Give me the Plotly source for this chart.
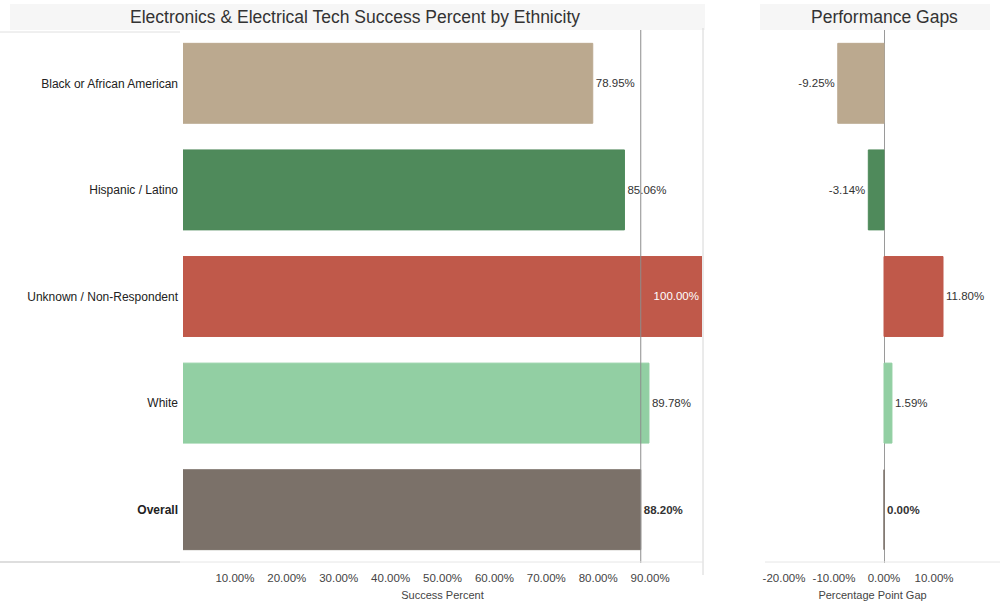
import plotly.graph_objects as go

# Data
categories = ["Black or African American", "Hispanic / Latino",
              "Unknown / Non-Respondent", "White", "Overall"]
success_pct = [78.95, 85.06, 100.00, 89.78, 88.20]
gap_pct = [-9.25, -3.14, 11.80, 1.59, 0.00]
bar_colors = ["#bba98f", "#4f8a5b", "#c0594a", "#92cfa3", "#7b7169"]

success_ticks = [10, 20, 30, 40, 50, 60, 70, 80, 90]
gap_ticks = [-20, -10, 0, 10, 20]

FONT = "Liberation Sans, Arial, sans-serif"
overall_value = success_pct[categories.index("Overall")]

tick_text = [f"<b>{c}</b>" if c == "Overall" else c for c in categories]
succ_text = [f"<b>{v:.2f}%</b>" if c == "Overall" else f"{v:.2f}%"
             for c, v in zip(categories, success_pct)]
gap_text = [f"<b>{v:.2f}%</b>" if c == "Overall" else f"{v:.2f}%"
            for c, v in zip(categories, gap_pct)]
succ_pos = ["inside" if v >= 100 else "outside" for v in success_pct]
succ_text_col = ["white" if v >= 100 else "#333333" for v in success_pct]

fig = go.Figure()

fig.add_trace(go.Bar(
    x=success_pct, y=categories, orientation="h",
    marker=dict(color=bar_colors, line=dict(color=bar_colors, width=1)),
    width=0.75, text=succ_text, textposition=succ_pos,
    insidetextanchor="end", textangle=0,
    textfont=dict(family=FONT, size=11.5, color=succ_text_col),
    outsidetextfont=dict(family=FONT, size=11.5, color="#333333"),
    insidetextfont=dict(family=FONT, size=11.5, color="white"),
    cliponaxis=False, showlegend=False, hoverinfo="skip",
    xaxis="x", yaxis="y",
))

fig.add_trace(go.Bar(
    x=gap_pct, y=categories, orientation="h",
    marker=dict(color=bar_colors, line=dict(color=bar_colors, width=1)),
    width=0.75, text=gap_text, textposition="outside", textangle=0,
    textfont=dict(family=FONT, size=11.5, color="#333333"),
    cliponaxis=False, showlegend=False, hoverinfo="skip",
    xaxis="x2", yaxis="y2",
))

y_dom = [1 - 563 / 605, 1 - 30 / 605]

fig.update_layout(
    width=1000, height=605,
    margin=dict(l=0, r=0, t=0, b=0),
    paper_bgcolor="white", plot_bgcolor="white",
    font=dict(family=FONT, size=11, color="#333333"),
    bargap=0.25,
    xaxis=dict(
        domain=[0.183, 0.702], range=[0, 100],
        tickvals=success_ticks,
        ticktext=[f"{t:.2f}%" for t in success_ticks],
        tickfont=dict(size=11.5, color="#444444"),
        ticks="outside", ticklen=4, tickcolor="rgba(0,0,0,0)",
        showgrid=False, zeroline=False, showline=False,
        title=dict(text="Success Percent", font=dict(size=11, color="#444444"),
                   standoff=8),
        fixedrange=True,
    ),
    yaxis=dict(
        domain=y_dom, anchor="x",
        categoryorder="array", categoryarray=categories,
        range=[4.5, -0.5],
        tickvals=categories, ticktext=tick_text,
        tickfont=dict(size=12, color="#222222"),
        showgrid=False, zeroline=False, showline=False,
        ticks="", ticklabelstandoff=4,
    ),
    xaxis2=dict(
        domain=[0.745, 1.0], range=[-27.8, 23.2], anchor="y2",
        tickvals=gap_ticks,
        ticktext=[f"{t:.2f}%" for t in gap_ticks],
        tickfont=dict(size=11.5, color="#444444"),
        ticks="outside", ticklen=4, tickcolor="rgba(0,0,0,0)",
        showgrid=False, zeroline=True, zerolinecolor="#9a9a9a",
        zerolinewidth=1, showline=False,
        title=dict(text="Percentage Point Gap",
                   font=dict(size=11, color="#444444"), standoff=8),
    ),
    yaxis2=dict(
        domain=y_dom, anchor="x2", matches="y",
        categoryorder="array", categoryarray=categories,
        showticklabels=False, showgrid=False, zeroline=False,
        showline=False, ticks="",
    ),
)

# Title bands
fig.add_shape(type="rect", xref="paper", yref="paper",
              x0=0.01, x1=0.705, y0=1 - 30 / 605, y1=1 - 4 / 605,
              fillcolor="#f6f6f6", line=dict(width=0), layer="below")
fig.add_shape(type="rect", xref="paper", yref="paper",
              x0=0.76, x1=0.99, y0=1 - 30 / 605, y1=1 - 4 / 605,
              fillcolor="#f6f6f6", line=dict(width=0), layer="below")
fig.add_annotation(text="Electronics & Electrical Tech Success Percent by Ethnicity",
                   xref="paper", yref="paper", x=0.355, y=1 - 17 / 605,
                   xanchor="center", yanchor="middle",
                   showarrow=False, font=dict(size=17.5, color="#333333"))
fig.add_annotation(text="Performance Gaps",
                   xref="paper", yref="paper", x=0.884, y=1 - 17 / 605,
                   xanchor="center", yanchor="middle",
                   showarrow=False, font=dict(size=17.5, color="#333333"))

# Reference line at the overall rate
fig.add_shape(type="line", xref="x", yref="y domain",
              x0=overall_value, x1=overall_value, y0=0, y1=1,
              line=dict(color="#8c8c8c", width=1))

# Panel borders
fig.add_shape(type="line", xref="paper", yref="paper",
              x0=0.703, x1=0.703, y0=1 - 575 / 605, y1=1 - 28 / 605,
              line=dict(color="#d6d6d6", width=1))
fig.add_shape(type="line", xref="paper", yref="paper",
              x0=0.0, x1=0.18, y0=1 - 562 / 605, y1=1 - 562 / 605,
              line=dict(color="#bdbdbd", width=1))
fig.add_shape(type="line", xref="paper", yref="paper",
              x0=0.18, x1=0.703, y0=1 - 562 / 605, y1=1 - 562 / 605,
              line=dict(color="#e6e6e6", width=1))
fig.add_shape(type="line", xref="paper", yref="paper",
              x0=0.0, x1=0.18, y0=1 - 32 / 605, y1=1 - 32 / 605,
              line=dict(color="#e0e0e0", width=1))
fig.add_shape(type="line", xref="paper", yref="paper",
              x0=0.765, x1=1.0, y0=1 - 562 / 605, y1=1 - 562 / 605,
              line=dict(color="#e6e6e6", width=1))

fig.write_html("out.html")
